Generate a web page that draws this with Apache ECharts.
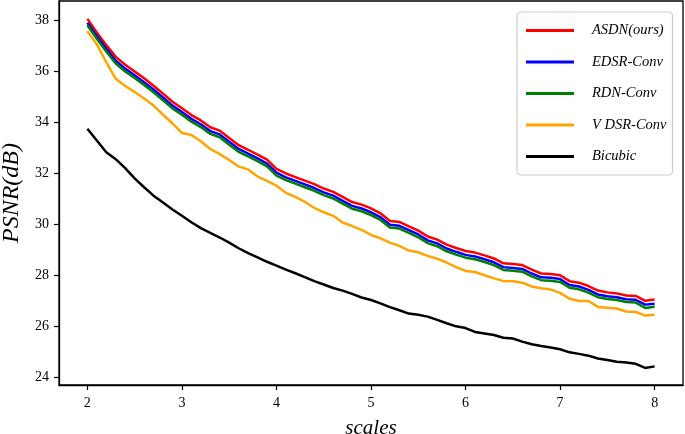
<!DOCTYPE html>
<html>
<head>
<meta charset="utf-8">
<script src="https://cdn.jsdelivr.net/npm/echarts@6/dist/echarts.min.js"></script>
<style>
html,body{margin:0;padding:0;background:#fff;}
#chart{width:685px;height:434px;}
</style>
</head>
<body>
<div id="chart"></div>
<script>
const scales = [2.0,2.1,2.2,2.3,2.4,2.5,2.6,2.7,2.8,2.9,3.0,3.1,3.2,3.3,3.4,3.5,3.6,3.7,3.8,3.9,4.0,4.1,4.2,4.3,4.4,4.5,4.6,4.7,4.8,4.9,5.0,5.1,5.2,5.3,5.4,5.5,5.6,5.7,5.8,5.9,6.0,6.1,6.2,6.3,6.4,6.5,6.6,6.7,6.8,6.9,7.0,7.1,7.2,7.3,7.4,7.5,7.6,7.7,7.8,7.9,8.0];

const asdn = [38.05,37.52,37.02,36.56,36.25,35.99,35.72,35.43,35.12,34.80,34.55,34.28,34.07,33.80,33.67,33.38,33.10,32.92,32.73,32.53,32.17,31.99,31.85,31.71,31.57,31.40,31.27,31.07,30.87,30.77,30.62,30.43,30.13,30.09,29.92,29.75,29.52,29.40,29.20,29.07,28.95,28.89,28.78,28.66,28.47,28.44,28.40,28.22,28.07,28.05,28.00,27.77,27.71,27.58,27.40,27.33,27.29,27.21,27.19,27.00,27.05];

const edsr = [37.90,37.38,36.88,36.41,36.10,35.84,35.57,35.28,34.97,34.65,34.40,34.13,33.92,33.65,33.52,33.23,32.95,32.77,32.58,32.38,32.02,31.84,31.70,31.56,31.42,31.25,31.12,30.92,30.72,30.62,30.47,30.28,29.98,29.94,29.77,29.60,29.37,29.25,29.05,28.92,28.80,28.74,28.63,28.51,28.32,28.29,28.25,28.07,27.92,27.90,27.85,27.62,27.56,27.43,27.25,27.18,27.14,27.06,27.04,26.85,26.88];

const rdn = [37.80,37.27,36.77,36.30,35.99,35.73,35.46,35.17,34.86,34.54,34.29,34.02,33.81,33.54,33.41,33.12,32.84,32.66,32.47,32.27,31.91,31.73,31.59,31.45,31.31,31.14,31.01,30.81,30.61,30.51,30.36,30.17,29.87,29.83,29.66,29.49,29.26,29.14,28.94,28.81,28.69,28.63,28.52,28.40,28.21,28.18,28.14,27.96,27.81,27.79,27.74,27.51,27.45,27.32,27.14,27.07,27.03,26.95,26.93,26.72,26.77];

const vdsr = [37.57,37.05,36.35,35.70,35.42,35.18,34.93,34.65,34.30,33.95,33.58,33.50,33.25,32.95,32.75,32.52,32.26,32.15,31.87,31.70,31.51,31.23,31.07,30.88,30.64,30.47,30.33,30.07,29.93,29.78,29.58,29.45,29.28,29.15,28.97,28.90,28.76,28.65,28.50,28.32,28.17,28.13,28.00,27.88,27.78,27.77,27.71,27.56,27.49,27.44,27.31,27.08,26.99,26.99,26.76,26.73,26.70,26.58,26.56,26.42,26.45];

const bicubic = [33.74,33.28,32.82,32.55,32.20,31.80,31.45,31.12,30.85,30.58,30.33,30.08,29.85,29.66,29.48,29.28,29.06,28.87,28.70,28.53,28.38,28.22,28.08,27.93,27.77,27.64,27.50,27.40,27.27,27.13,27.03,26.90,26.75,26.63,26.50,26.45,26.38,26.25,26.12,26.00,25.93,25.78,25.72,25.66,25.55,25.52,25.40,25.30,25.23,25.17,25.10,24.98,24.92,24.85,24.74,24.68,24.61,24.58,24.53,24.37,24.43];

const seriesNames = ['ASDN(ours)','EDSR-Conv','RDN-Conv','V DSR-Conv','Bicubic'];
const seriesColors = ['#ff0000','#0000ff','#008000','#ffa500','#000000'];
const xTicks = [2,3,4,5,6,7,8];
const yTicks = [24,26,28,30,32,34,36,38];

const allValues = [asdn, edsr, rdn, vdsr, bicubic];
const serif = "'Liberation Serif','DejaVu Serif',serif";

const chart = echarts.init(document.getElementById('chart'), null, {renderer:'canvas'});
chart.setOption({
  animation:false,
  backgroundColor:'#ffffff',
  grid:{left:59, right:2, top:1, bottom:49, show:true, borderColor:'#000', borderWidth:1.3, containLabel:false, outerBoundsMode:'none'},
  xAxis:{
    type:'value', min:1.7, max:8.3,
    name:'scales', nameLocation:'middle', nameGap:33,
    nameTextStyle:{fontFamily:serif, fontStyle:'italic', fontSize:21, color:'#000'},
    axisLine:{show:true, lineStyle:{color:'#000', width:1.3}},
    axisTick:{show:true, length:5, inside:false, customValues:xTicks, lineStyle:{color:'#000', width:1.2}},
    axisLabel:{customValues:xTicks, margin:11, fontFamily:serif, fontSize:14, color:'#000'},
    splitLine:{show:false}
  },
  yAxis:{
    type:'value', min:23.7, max:38.75,
    name:'PSNR(dB)', nameLocation:'middle', nameGap:28,
    nameTextStyle:{fontFamily:serif, fontStyle:'italic', fontSize:24, color:'#000'},
    axisLine:{show:true, lineStyle:{color:'#000', width:1.3}},
    axisTick:{show:true, length:5, inside:false, customValues:yTicks, lineStyle:{color:'#000', width:1.2}},
    axisLabel:{customValues:yTicks, margin:10, fontFamily:serif, fontSize:14, color:'#000'},
    splitLine:{show:false}
  },
  legend:{
    orient:'vertical', left:517, top:12,
    padding:[10,6,10,9],
    itemGap:14.5, itemWidth:48, itemHeight:3,
    icon:'rect',
    backgroundColor:'#fff', borderColor:'#cccccc', borderWidth:1.2, borderRadius:4,
    textStyle:{fontFamily:serif, fontStyle:'italic', fontSize:14.5, color:'#000', padding:[0,0,0,13], lineHeight:17},
    data:seriesNames
  },
  series: allValues.map((vals, i) => ({
    name:seriesNames[i], type:'line', showSymbol:false, symbol:'none',
    data: scales.map((s, j) => [s, vals[j]]),
    lineStyle:{color:seriesColors[i], width:2.5},
    itemStyle:{color:seriesColors[i]},
    z:2+i
  }))
});
</script>
</body>
</html>
